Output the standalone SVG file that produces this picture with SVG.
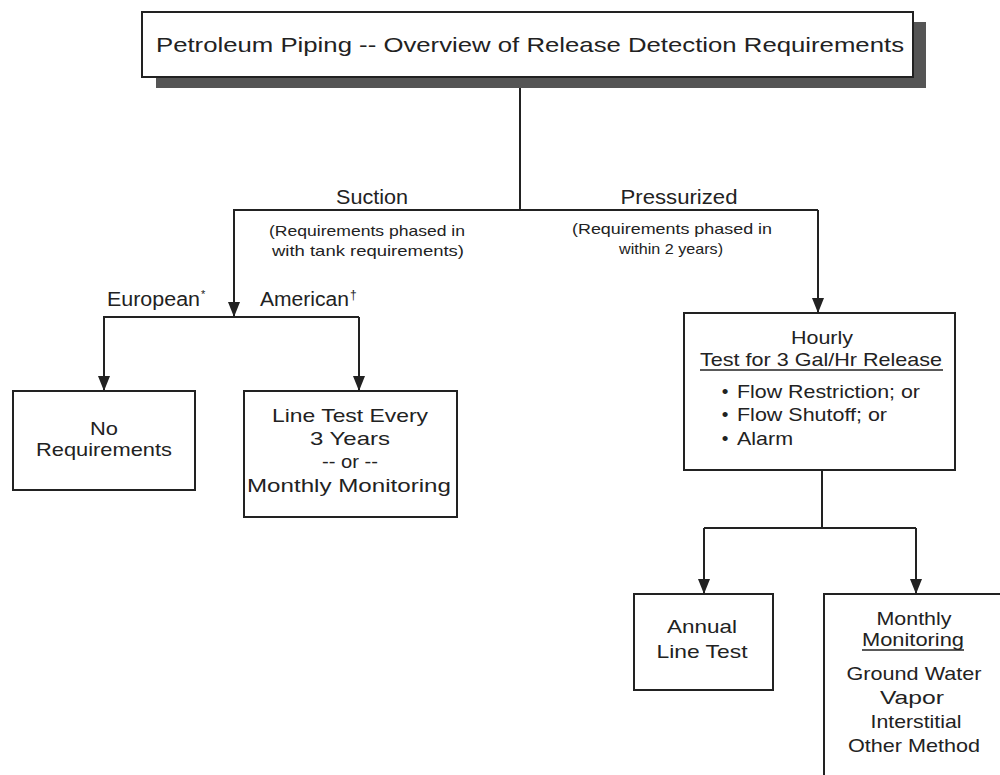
<svg xmlns="http://www.w3.org/2000/svg" width="1000" height="775" viewBox="0 0 1000 775">
<defs>
<marker id="arr" markerWidth="16" markerHeight="14" refX="15" refY="7" orient="auto" markerUnits="userSpaceOnUse" viewBox="0 0 16 14">
<path d="M0,1 L15,7 L0,13 Z" fill="#222"/>
</marker>
</defs>
<style>
text{font-family:"Liberation Sans",Arial,sans-serif;fill:#222;text-anchor:middle}
.t{font-size:21px}
.l{font-size:20px}
.n{font-size:19px}
.s{font-size:15px}
.st{text-anchor:start}
.box{fill:#fff;stroke:#222;stroke-width:2}
.ln{fill:none;stroke:#222;stroke-width:2}
.u{stroke:#222;stroke-width:1.3}
</style>
<rect width="1000" height="775" fill="#fff"/>
<g id="title">
<rect x="156" y="22" width="770" height="66" fill="#555"/>
<rect class="box" x="142" y="12" width="771" height="65"/>
<text class="t" x="530" y="52" textLength="748" lengthAdjust="spacingAndGlyphs">Petroleum Piping -- Overview of Release Detection Requirements</text>
</g>
<g id="connectors">
<path class="ln" d="M520,88 V210"/>
<path class="ln" d="M233,210 H818"/>
<path class="ln" d="M234,210 V317" marker-end="url(#arr)"/>
<path class="ln" d="M818,210 V313" marker-end="url(#arr)"/>
<path class="ln" d="M103,317 H359"/>
<path class="ln" d="M104,317 V391" marker-end="url(#arr)"/>
<path class="ln" d="M359,317 V391" marker-end="url(#arr)"/>
<path class="ln" d="M822,471 V528"/>
<path class="ln" d="M704,528 H916"/>
<path class="ln" d="M704,528 V594" marker-end="url(#arr)"/>
<path class="ln" d="M916,528 V594" marker-end="url(#arr)"/>
</g>
<g id="labels">
<text class="l" x="372" y="204" textLength="72" lengthAdjust="spacingAndGlyphs">Suction</text>
<text class="l" x="679" y="204" textLength="117" lengthAdjust="spacingAndGlyphs">Pressurized</text>
<text class="s" x="367" y="236" textLength="196" lengthAdjust="spacingAndGlyphs">(Requirements phased in</text>
<text class="s" x="368" y="256" textLength="192" lengthAdjust="spacingAndGlyphs">with tank requirements)</text>
<text class="s" x="672" y="234" textLength="200" lengthAdjust="spacingAndGlyphs">(Requirements phased in</text>
<text class="s" x="671" y="254" textLength="104" lengthAdjust="spacingAndGlyphs">within 2 years)</text>
<text class="l st" x="107" y="306"><tspan textLength="93" lengthAdjust="spacingAndGlyphs">European</tspan><tspan font-size="11" dx="1" dy="-8">*</tspan></text>
<text class="l st" x="260" y="306"><tspan textLength="89" lengthAdjust="spacingAndGlyphs">American</tspan><tspan font-size="12" dx="1" dy="-7">†</tspan></text>
</g>
<g id="no-req">
<rect class="box" x="13" y="391" width="182" height="99"/>
<text class="n" x="104" y="435" textLength="28" lengthAdjust="spacingAndGlyphs">No</text>
<text class="n" x="104" y="456" textLength="136" lengthAdjust="spacingAndGlyphs">Requirements</text>
</g>
<g id="line-test">
<rect class="box" x="244" y="391" width="213" height="126"/>
<text class="n" x="350" y="422" textLength="156" lengthAdjust="spacingAndGlyphs">Line Test Every</text>
<text class="n" x="350" y="445" textLength="80" lengthAdjust="spacingAndGlyphs">3 Years</text>
<text class="n" x="350" y="468" textLength="56" lengthAdjust="spacingAndGlyphs">-- or --</text>
<text class="n" x="349" y="492" textLength="204" lengthAdjust="spacingAndGlyphs">Monthly Monitoring</text>
</g>
<g id="hourly">
<rect class="box" x="684" y="313" width="271" height="157"/>
<text class="n" x="822" y="344" textLength="62" lengthAdjust="spacingAndGlyphs">Hourly</text>
<text class="n" x="821" y="366" textLength="242" lengthAdjust="spacingAndGlyphs">Test for 3 Gal/Hr Release</text>
<line class="u" x1="700" y1="370" x2="943" y2="370"/>
<text class="n" x="725" y="398">•</text>
<text class="n st" x="737" y="398" textLength="183" lengthAdjust="spacingAndGlyphs">Flow Restriction; or</text>
<text class="n" x="725" y="421">•</text>
<text class="n st" x="737" y="421" textLength="150" lengthAdjust="spacingAndGlyphs">Flow Shutoff; or</text>
<text class="n" x="725" y="445">•</text>
<text class="n st" x="737" y="445" textLength="56" lengthAdjust="spacingAndGlyphs">Alarm</text>
</g>
<g id="annual">
<rect class="box" x="634" y="594" width="139" height="96"/>
<text class="n" x="702" y="633" textLength="70" lengthAdjust="spacingAndGlyphs">Annual</text>
<text class="n" x="702" y="658" textLength="91" lengthAdjust="spacingAndGlyphs">Line Test</text>
</g>
<g id="monthly">
<rect class="box" x="824" y="594" width="190" height="200"/>
<text class="n" x="914" y="625" textLength="75" lengthAdjust="spacingAndGlyphs">Monthly</text>
<text class="n" x="913" y="646" textLength="102" lengthAdjust="spacingAndGlyphs">Monitoring</text>
<line class="u" x1="862" y1="650" x2="964" y2="650"/>
<text class="n" x="914" y="680" textLength="135" lengthAdjust="spacingAndGlyphs">Ground Water</text>
<text class="n" x="912" y="704" textLength="64" lengthAdjust="spacingAndGlyphs">Vapor</text>
<text class="n" x="916" y="728" textLength="91" lengthAdjust="spacingAndGlyphs">Interstitial</text>
<text class="n" x="914" y="752" textLength="132" lengthAdjust="spacingAndGlyphs">Other Method</text>
</g>
</svg>
